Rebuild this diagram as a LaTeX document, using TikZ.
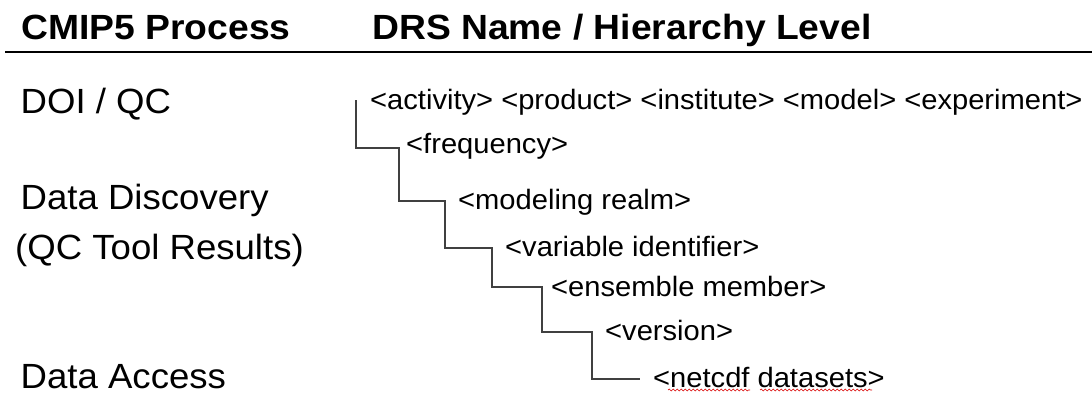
\documentclass[tikz,border=0pt]{standalone}
\usepackage{fontspec}
\setmainfont{Liberation Sans}
\usetikzlibrary{decorations.pathmorphing}
\tikzset{
  hdr/.style={anchor=base west, inner sep=0pt, font=\fontsize{35}{38}\selectfont\bfseries},
  proc/.style={anchor=base west, inner sep=0pt, font=\fontsize{35}{40}\selectfont},
  lvl/.style={anchor=base west, inner sep=0pt, font=\fontsize{28}{30}\selectfont},
  conn/.style={draw=black!75, line width=1.4pt},
  rule/.style={draw=black, line width=2.6pt},
  spell/.style={draw=red!85!black, line width=0.6pt, decorate, decoration={snake, amplitude=0.9pt, segment length=4pt}}
}
\begin{document}
\begin{tikzpicture}[x=1pt,y=-1pt]
\useasboundingbox[fill=white] (0,0) rectangle (1092,394);
% header
\node[hdr] (h1) at (21,39) {\scalebox{1.065}[1]{CMIP5 Process}};
\node[hdr] (h2) at (372,39) {\scalebox{1.065}[1]{DRS Name / Hierarchy Level}};
\coordinate (rl) at (5,52);
\coordinate (rr) at (1092,52);
\draw[rule] (rl) -- (rr);
% process labels
\node[proc] (p1) at (20.5,113) {\scalebox{1.045}[1]{DOI / QC}};
\node[proc] (p2) at (20.5,209) {\scalebox{1.045}[1]{Data Discovery}};
\node[proc] (p3) at (15,259) {\scalebox{1.045}[1]{(QC Tool Results)}};
\node[proc] (p4) at (20.5,388) {\scalebox{1.045}[1]{Data Access}};
% levels
\node[lvl] (l1) at (370,109) {\scalebox{1.04}[1]{<activity> <product> <institute> <model> <experiment>}};
\node[lvl] (l2) at (406,153) {\scalebox{1.04}[1]{<frequency>}};
\node[lvl] (l3) at (458,209) {\scalebox{1.04}[1]{<modeling realm>}};
\node[lvl] (l4) at (505,256) {\scalebox{1.04}[1]{<variable identifier>}};
\node[lvl] (l5) at (551,296) {\scalebox{1.04}[1]{<ensemble member>}};
\node[lvl] (l6) at (605,340) {\scalebox{1.04}[1]{<version>}};
\node[lvl] (l7) at (653,387) {\scalebox{1.04}[1]{<netcdf datasets>}};
% staircase connector
\coordinate (s0) at (356,100);
\coordinate (k1) at (399,148);
\coordinate (k2) at (445,201);
\coordinate (k3) at (492,248);
\coordinate (k4) at (542,287);
\coordinate (k5) at (592,332);
\coordinate (k6) at (640,379);
\draw[conn] (s0) |- (k1) |- (k2) |- (k3) |- (k4) |- (k5) |- (k6);
% spell-check underline
\coordinate (u1) at (668,390);
\coordinate (u2) at (750,390);
\coordinate (u3) at (760,390);
\coordinate (u4) at (872,390);
\draw[spell] (u1) -- (u2);
\draw[spell] (u3) -- (u4);
\end{tikzpicture}
\end{document}
